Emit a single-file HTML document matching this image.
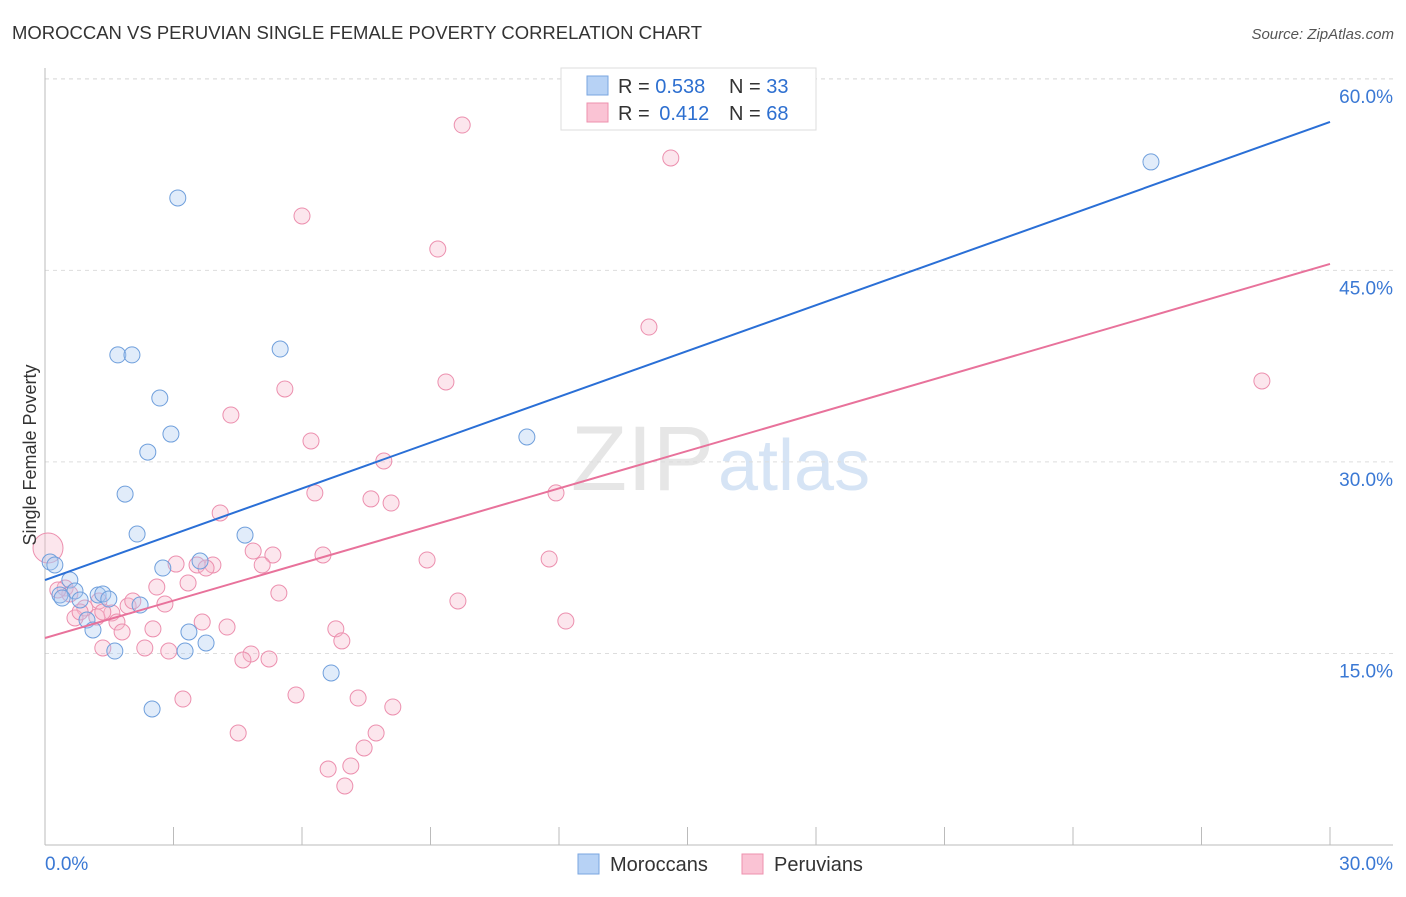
<!DOCTYPE html>
<html><head><meta charset="utf-8"><style>
body{margin:0;background:#fff;font-family:"Liberation Sans",sans-serif;}
svg text{font-family:"Liberation Sans",sans-serif;}
</style></head><body>
<svg id="chart" width="1406" height="892" viewBox="0 0 1406 892">
<text x="12" y="39" font-size="18" fill="#333" textLength="690" lengthAdjust="spacingAndGlyphs">MOROCCAN VS PERUVIAN SINGLE FEMALE POVERTY CORRELATION CHART</text>
<text x="1394" y="39" font-size="15" fill="#555" font-style="italic" text-anchor="end">Source: ZipAtlas.com</text>
<text x="714" y="490" font-size="92" fill="#e6e6e6" text-anchor="end" font-family="Liberation Serif">ZIP</text>
<text x="718" y="490" font-size="72" fill="#d6e4f5">atlas</text>
<g id="grid"></g>
<g id="axes"></g>
<g id="marks"></g>
<text x="36" y="455" font-size="18" fill="#333" text-anchor="middle" transform="rotate(-90 36 455)">Single Female Poverty</text>
<g>
<rect x="561" y="68" width="255" height="62" fill="#fff" stroke="#ddd"/>
<rect x="587" y="76" width="21" height="19" fill="#b7d2f5" stroke="#7aa6e0"/>
<rect x="587" y="103" width="21" height="19" fill="#fac3d4" stroke="#ee90ae"/>
<text x="618" y="93" font-size="20" fill="#333">R = <tspan fill="#2d6fd0">0.538</tspan></text>
<text x="729" y="93" font-size="20" fill="#333">N = <tspan fill="#2d6fd0">33</tspan></text>
<text x="618" y="120" font-size="20" fill="#333">R = <tspan fill="#2d6fd0" dx="4">0.412</tspan></text>
<text x="729" y="120" font-size="20" fill="#333">N = <tspan fill="#2d6fd0">68</tspan></text>
</g>
<g>
<rect x="578" y="854" width="21" height="20" fill="#b7d2f5" stroke="#7aa6e0"/>
<text x="610" y="871" font-size="20" fill="#333">Moroccans</text>
<rect x="742" y="854" width="21" height="20" fill="#fac3d4" stroke="#ee90ae"/>
<text x="774" y="871" font-size="20" fill="#333">Peruvians</text>
</g>
</svg>
<script>
const yTicks=[15,30,45,60];
const yTickLabels=["15.0%","30.0%","45.0%","60.0%"];
const xTickLabels=["0.0%","30.0%"];
const blueX=[3.10,1.70,2.03,5.49,2.68,2.94,2.40,1.87,2.15,4.67,11.25,25.82,0.12,0.23,2.75,3.62,0.58,0.35,0.70,0.82,1.24,1.35,1.49,2.22,0.98,1.12,3.36,3.76,3.27,1.63,6.68,2.50,0.40];
const blueY=[50.67,38.38,38.38,38.84,35.0,32.18,30.77,27.48,24.35,24.27,31.95,53.49,22.16,21.93,21.69,22.24,20.75,19.58,19.89,19.19,19.58,19.66,19.26,18.79,17.62,16.84,16.68,15.82,15.19,15.19,13.47,10.65,19.34];
const pinkX=[9.74,14.61,6.00,9.17,14.10,28.41,9.36,5.60,4.34,6.21,7.91,6.30,7.61,8.08,11.93,4.09,0.07,4.86,5.32,6.49,8.92,11.77,3.06,3.55,3.92,5.07,3.76,3.34,2.61,5.46,9.64,12.16,0.47,0.58,0.30,1.26,0.93,1.94,2.05,2.80,1.56,0.70,0.82,1.68,1.21,2.52,1.80,3.67,4.25,6.79,6.93,1.35,2.33,2.89,4.81,4.62,5.23,5.86,3.22,7.31,8.12,4.51,7.73,7.45,7.14,6.61,7.00,1.35];
const pinkY=[56.38,53.80,49.26,46.67,40.56,36.34,36.26,35.71,33.67,31.64,30.07,27.57,27.10,26.78,27.57,26.0,23.26,23.02,22.71,22.71,22.32,22.40,22.0,21.93,21.93,21.93,21.69,20.52,20.20,19.73,19.11,17.54,20.13,19.66,19.97,19.11,18.56,18.72,19.11,18.87,18.17,17.78,18.25,17.46,17.85,16.92,16.68,17.46,17.07,16.92,15.98,15.43,15.43,15.19,14.96,14.49,14.57,11.75,11.43,11.51,10.81,8.77,8.77,7.60,6.19,5.95,4.62,18.25];
const blueTrend=[20.75,56.62];
const pinkTrend=[16.21,45.50];
const NS="http://www.w3.org/2000/svg";
const xs=v=>45+v/30*1285;
const ys=v=>845-v*12.77;
function mk(tag,parent,attrs){const e=document.createElementNS(NS,tag);for(const k in attrs)e.setAttribute(k,attrs[k]);parent.appendChild(e);return e;}
const grid=document.getElementById('grid'),axes=document.getElementById('axes'),marks=document.getElementById('marks');
yTicks.forEach((t,i)=>{
  const l=mk('line',grid,{x1:45,x2:1393,y1:ys(t),y2:ys(t),stroke:'#ddd','stroke-dasharray':'4,4'});
  
  
  const tx=mk('text',axes,{x:1393,y:ys(t)+24,'font-size':19,fill:'#3a78d4','text-anchor':'end'});
  tx.textContent=yTickLabels[i];
  
  
});
let g=mk('line',grid,{x1:45,x2:1393,y1:79,y2:79,stroke:'#ddd','stroke-dasharray':'4,4'});


let a=mk('line',axes,{x1:45,x2:45,y1:68,y2:845,stroke:'#bbb'});


a=mk('line',axes,{x1:45,x2:1393,y1:845,y2:845,stroke:'#bbb'});


for(let k=0;k<=10;k++){const t=mk('line',axes,{x1:xs(k*3),x2:xs(k*3),y1:827,y2:845,stroke:'#bbb'});
  
  }
[[0,'start',45],[30,'end',1393]].forEach((d,i)=>{const t=mk('text',axes,{x:d[2],y:870,'font-size':19,fill:'#3a78d4','text-anchor':d[1]});t.textContent=xTickLabels[i];
  
  });
function pts(X,Y,fill,stroke,name){X.forEach((x,i)=>{const r=(name==='peruvian-point'&&i===16)?15:8;
  const c=mk('circle',marks,{cx:xs(x),cy:ys(Y[i]),r:r,fill:fill,'fill-opacity':0.35,stroke:stroke,'stroke-width':1});
  
  });}
pts(pinkX,pinkY,'#f7b6cb','#ec8fae','peruvian-point');
pts(blueX,blueY,'#a9c9f2','#6f9fdc','moroccan-point');
let tl=mk('line',marks,{x1:xs(0),y1:ys(blueTrend[0]),x2:xs(30),y2:ys(blueTrend[1]),stroke:'#2a6fd6','stroke-width':2});


tl=mk('line',marks,{x1:xs(0),y1:ys(pinkTrend[0]),x2:xs(30),y2:ys(pinkTrend[1]),stroke:'#e8729b','stroke-width':2});


</script>
</body></html>
